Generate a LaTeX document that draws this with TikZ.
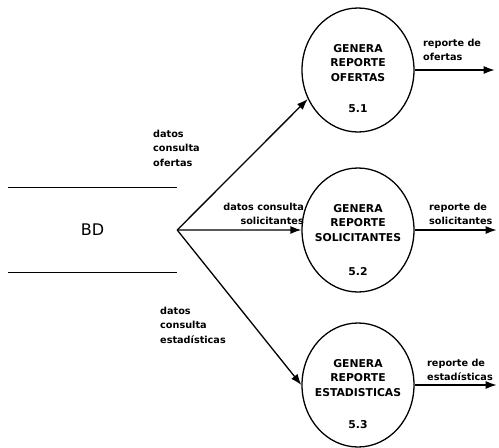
\documentclass[tikz,border=0pt]{standalone}
\usepackage{fontspec}
\setmainfont{DejaVu Sans}
\usetikzlibrary{calc}
\usetikzlibrary{positioning}
\usetikzlibrary{shapes,arrows.meta}

\begin{document}
\begin{tikzpicture} [x=1pt, y=-1pt, >={Latex[length=11pt,width=8pt]}, node distance = 2cm]
            % Set primary nodes
            \tikzset{
                procNode/.style={
                        draw,
                        ellipse,
                        line width=1.3pt,
                        minimum width=112pt,
                        minimum height=124pt,
                        inner sep=0pt
                    }
            }
            \tikzset{
                procText/.style={
                        align=center,
                        inner sep=0pt,
                        font=\fontsize{10.8}{14.5}\selectfont\bfseries
                    }
            }
            \tikzset{
                flowLabel/.style={
                        align=left,
                        inner sep=0pt,
                        font=\fontsize{9.7}{14.5}\selectfont\bfseries
                    }
            }
            \tikzset{
                storeNode/.style={
                        minimum width=169pt,
                        minimum height=84pt,
                        inner sep=0pt,
                        font=\fontsize{16}{19}\selectfont
                    }
            }
            % Configure arrows
            \tikzstyle{arrow} = [line width=1.3pt, ->]
            \useasboundingbox (0,0) rectangle (499,448);
            % Placing nodes
            \node[storeNode](bd) at (92.5,230){BD};
            \node[procNode](proc1) at (358,70){};
            \node[procNode, below = 34.7pt of proc1](proc2){};
            \node[procNode, below = 29.7pt of proc2](proc3){};
            \node[procText](title1) at ([yshift=7pt]proc1.center){GENERA\\REPORTE\\OFERTAS};
            \node[procText](title2) at ([yshift=7pt]proc2.center){GENERA\\REPORTE\\SOLICITANTES};
            \node[procText](title3) at ([yshift=7pt]proc3.center){GENERA\\REPORTE\\ESTADISTICAS};
            \node[procText](num1) at ([yshift=-39pt]proc1.center){5.1};
            \node[procText](num2) at ([yshift=-42pt]proc2.center){5.2};
            \node[procText](num3) at ([yshift=-40pt]proc3.center){5.3};
            \coordinate[right = 80pt of proc1.east](out1);
            \coordinate[right = 82pt of proc2.east](out2);
            \coordinate[right = 82pt of proc3.east](out3);
            % Labels
            \node[flowLabel, anchor=west](lblIn1) at (153,148){datos\\consulta\\ofertas};
            \node[flowLabel, anchor=east, align=right](lblIn2) at (304,214){datos consulta\\solicitantes};
            \node[flowLabel, anchor=west](lblIn3) at (160,325){datos\\consulta\\estadísticas};
            \node[flowLabel, anchor=west](lblOut1) at (423,50){reporte de\\ofertas};
            \node[flowLabel, anchor=west](lblOut2) at (429,214){reporte de\\solicitantes};
            \node[flowLabel, anchor=west](lblOut3) at (427,370){reporte de\\estadísticas};
            % Draw store lines
            \draw[line width=1.3pt](bd.north west) -- (bd.north east);
            \draw[line width=1.3pt](bd.south west) -- (bd.south east);
            % Draw arrows
            \draw[arrow](bd.east) -- (proc1.210);
            \draw[arrow](bd.east) -- (proc2.west);
            \draw[arrow](bd.east) -- (proc3.west);
            \draw[arrow](proc1.east) -- (out1);
            \draw[arrow](proc2.east) -- (out2);
            \draw[arrow](proc3.east) -- (out3);
        \end{tikzpicture}
\end{document}
